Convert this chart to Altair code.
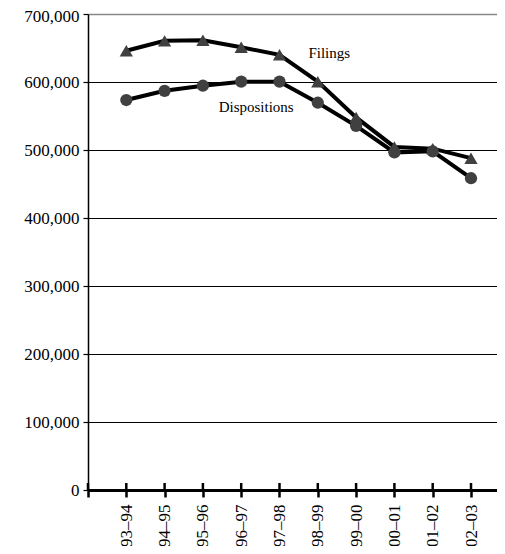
import altair as alt
import pandas as pd

years = ["93–94", "94–95", "95–96", "96–97", "97–98", "98–99", "99–00", "00–01", "01–02", "02–03"]
filings = [646000, 660500, 661500, 651000, 640000, 600500, 548000, 504500, 502000, 488000]
dispositions = [573500, 587000, 594500, 600500, 600500, 569500, 535500, 496500, 498000, 458500]

label_text = ["Filings", "Dispositions"]
label_x = [6.3, 4.39]
label_y = [642000, 563000]

pos = list(range(1, len(years) + 1))
df = pd.DataFrame({
    "pos": pos * 2,
    "year": years * 2,
    "value": filings + dispositions,
    "series": ["Filings"] * len(years) + ["Dispositions"] * len(years),
})
lab = pd.DataFrame({"text": label_text, "x": label_x, "y": label_y})
ticks = pd.DataFrame({"pos": [0] + pos})

FONT = "Liberation Serif"
label_expr = "datum.value == 0 ? '' : " + "[" + ",".join("'" + y + "'" for y in [""] + years) + "][datum.value]"

W = 409
xscale = alt.Scale(domain=[0, W / 38.3], nice=False, zero=False)
yscale = alt.Scale(domain=[0, 700000], nice=False)

xaxis = alt.Axis(
    values=[0] + pos, labelExpr=label_expr, labelAngle=270, labelAlign="right",
    labelBaseline="middle", labelFont=FONT, labelFontSize=17, labelColor="black",
    labelPadding=7, tickSize=7, tickColor="black", tickWidth=2.5,
    domainColor="black", domainWidth=3, grid=False, title=None,
)
yaxis = alt.Axis(
    values=[0, 100000, 200000, 300000, 400000, 500000, 600000, 700000],
    labelExpr="format(datum.value, ',')", labelFont=FONT, labelFontSize=17, labelColor="black",
    labelPadding=4, tickSize=5, tickColor="black", tickWidth=1.2,
    labelOffset={"condition": {"test": "datum.value == 700000", "value": 2}, "value": 0},
    domainColor="black", domainWidth=1.5, grid=True,
    gridColor={"condition": {"test": "datum.value == 700000", "value": "#888888"}, "value": "black"},
    gridWidth={"condition": {"test": "datum.value == 700000", "value": 1.5}, "value": 1},
    gridOpacity=1, title=None,
)

base = alt.Chart(df)
lines = base.mark_line(color="black", strokeWidth=4).encode(
    x=alt.X("pos:Q", scale=xscale, axis=xaxis),
    y=alt.Y("value:Q", scale=yscale, axis=yaxis),
    detail="series:N",
)
points = base.mark_point(filled=True, opacity=1, color="#404040").encode(
    x=alt.X("pos:Q", scale=xscale, axis=xaxis),
    y=alt.Y("value:Q", scale=yscale, axis=yaxis),
    shape=alt.Shape("series:N", scale=alt.Scale(domain=["Filings", "Dispositions"], range=["triangle-up", "circle"]), legend=None),
    size=alt.Size("series:N", scale=alt.Scale(domain=["Filings", "Dispositions"], range=[175, 150]), legend=None),
)
inner_ticks = alt.Chart(ticks).mark_rule(color="black", strokeWidth=2.5).encode(
    x=alt.X("pos:Q", scale=xscale, axis=xaxis),
    y=alt.value(469),
    y2=alt.value(476),
)
texts = alt.Chart(lab).mark_text(font=FONT, fontSize=15, color="black").encode(
    x=alt.X("x:Q", scale=xscale, axis=xaxis),
    y=alt.Y("y:Q", scale=yscale, axis=yaxis),
    text="text:N",
)

chart = alt.layer(lines, inner_ticks, points, texts).properties(
    width=W, height=476,
    autosize=alt.AutoSizeParams(type="none"),
    padding={"left": 80, "top": 6, "right": 0, "bottom": 56},
).configure_view(stroke=None).configure(background="white")

chart.save("out.html", embed_options={"renderer": "svg", "actions": False})
